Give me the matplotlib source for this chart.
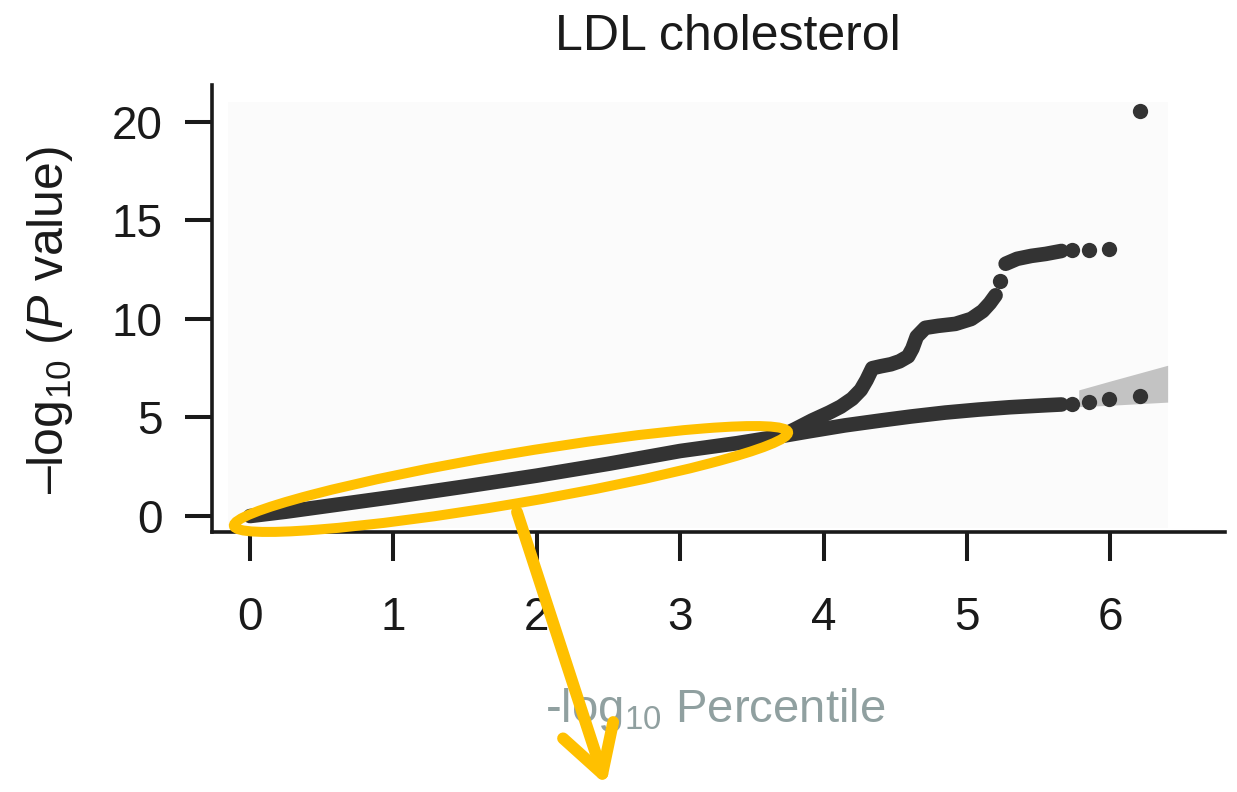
import numpy as np
import matplotlib
matplotlib.use('Agg')
import matplotlib.pyplot as plt
from matplotlib.patches import Ellipse, FancyArrowPatch, Rectangle
from matplotlib.transforms import IdentityTransform

plt.rcParams['font.family'] = ['Liberation Sans', 'DejaVu Sans']
plt.rcParams['mathtext.fontset'] = 'custom'
plt.rcParams['mathtext.rm'] = 'Liberation Sans'
plt.rcParams['mathtext.it'] = 'Liberation Sans:italic'

# ---------------- data ----------------
title = 'LDL cholesterol'
xticks = [0, 1, 2, 3, 4, 5, 6]
yticks = [0, 5, 10, 15, 20]

# part where both curves coincide
shared_x = [0.0, 0.25, 0.5, 1.0, 1.5, 2.0, 2.5, 3.0, 3.4, 3.7]
shared_y = [0.0, 0.22, 0.47, 0.97, 1.5, 2.05, 2.65, 3.3, 3.7, 4.05]

# observed (upper) curve, dense parts
upper_a_x = [3.70, 3.80, 3.92, 4.04, 4.12, 4.20, 4.26, 4.30, 4.34, 4.40, 4.47,
             4.53, 4.59, 4.62, 4.65, 4.71, 4.80, 4.92, 5.03, 5.11, 5.16, 5.20]
upper_a_y = [4.05, 4.40, 4.85, 5.25, 5.55, 5.95, 6.40, 6.90, 7.50, 7.60, 7.70,
             7.85, 8.10, 8.50, 9.10, 9.55, 9.65, 9.75, 10.0, 10.4, 10.8, 11.2]
upper_b_x = [5.27, 5.35, 5.45, 5.55, 5.66]
upper_b_y = [12.8, 13.05, 13.2, 13.3, 13.45]
upper_dot_x = [5.23]
upper_dot_y = [11.95]

# expected / null (lower) curve, dense part
lower_x = [3.70, 3.90, 4.15, 4.40, 4.61, 4.85, 5.08, 5.30, 5.55, 5.66]
lower_y = [4.05, 4.30, 4.60, 4.85, 5.05, 5.25, 5.40, 5.52, 5.62, 5.66]

# sparse tail points (shared x positions)
tail_x = [5.73, 5.85, 5.99, 6.21]
upper_tail_y = [13.5, 13.5, 13.55, 20.55]
lower_tail_y = [5.70, 5.80, 5.93, 6.08]

# confidence band at the tail
band_x = [5.78, 6.0, 6.2, 6.4]
band_lo = [5.55, 5.62, 5.70, 5.78]
band_hi = [6.40, 6.85, 7.25, 7.65]

# ---------------- figure ----------------
W, H = 1237, 792
fig = plt.figure(figsize=(W / 100, H / 100), dpi=100)
ax = fig.add_axes([212 / W, 1 - 532 / H, (1225 - 212) / W, (532 - 85) / H])
ax.set_xlim(-0.265, 6.80)
ax.set_ylim(-0.81, 21.87)

# very light panel background
ax.add_patch(Rectangle((-0.15, -0.6), 6.4 + 0.15, 21.0 + 0.6,
                       facecolor='#fbfbfb', edgecolor='none', zorder=0))

ax.fill_between(band_x, band_lo, band_hi, color='#c3c3c3', lw=0, zorder=1)

dark = '#333333'
line_kw = dict(color=dark, lw=10.5, solid_capstyle='round', solid_joinstyle='round', zorder=3)
ax.plot(shared_x, shared_y, **line_kw)
ax.plot(upper_a_x, upper_a_y, **line_kw)
ax.plot(upper_b_x, upper_b_y, **line_kw)
ax.plot(lower_x, lower_y, **line_kw)
dot_kw = dict(ls='none', marker='o', ms=11, mew=0, color=dark, zorder=4)
ax.plot(upper_dot_x, upper_dot_y, **dot_kw)
ax.plot(tail_x, upper_tail_y, **dot_kw)
ax.plot(tail_x, lower_tail_y, **dot_kw)

# axes styling
for s in ['top', 'right']:
    ax.spines[s].set_visible(False)
for s in ['left', 'bottom']:
    ax.spines[s].set_linewidth(2.6)
    ax.spines[s].set_color('#1a1a1a')
ax.set_facecolor('white')
ax.set_xticks(xticks)
ax.set_yticks(yticks)
ax.tick_params(axis='x', length=21, width=2.9, pad=25, labelsize=33, colors='#1a1a1a')
ax.tick_params(axis='y', length=19.5, width=2.9, pad=16, labelsize=33, colors='#1a1a1a')

ax.set_title(title, fontsize=36, color='#1a1a1a', pad=25, x=0.509)
ax.set_ylabel('\u2013log$_{10}$ ($P$ value)', fontsize=36, color='#1a1a1a')
ax.yaxis.set_label_coords(-0.135, 0.475)
ax.set_xlabel('-log$_{10}$ Percentile', fontsize=34, color='#90a0a0')
ax.xaxis.set_label_coords(0.4966, -0.345)

# yellow annotation (pixel coordinates, origin bottom-left)
yellow = '#FFC000'
ell = Ellipse((511, H - 479), width=562, height=50, angle=9.6, fill=False,
              edgecolor=yellow, lw=7.2, transform=IdentityTransform(), zorder=5)
fig.add_artist(ell)
arr = FancyArrowPatch(posA=(517, H - 512), posB=(606, H - 785),
                      arrowstyle='->,head_length=3.3,head_width=1.9', mutation_scale=10,
                      color=yellow, lw=8.5, shrinkA=0, shrinkB=0,
                      capstyle='round', joinstyle='round',
                      transform=IdentityTransform(), zorder=6)
fig.add_artist(arr)

fig.savefig('out.png', dpi=100)
